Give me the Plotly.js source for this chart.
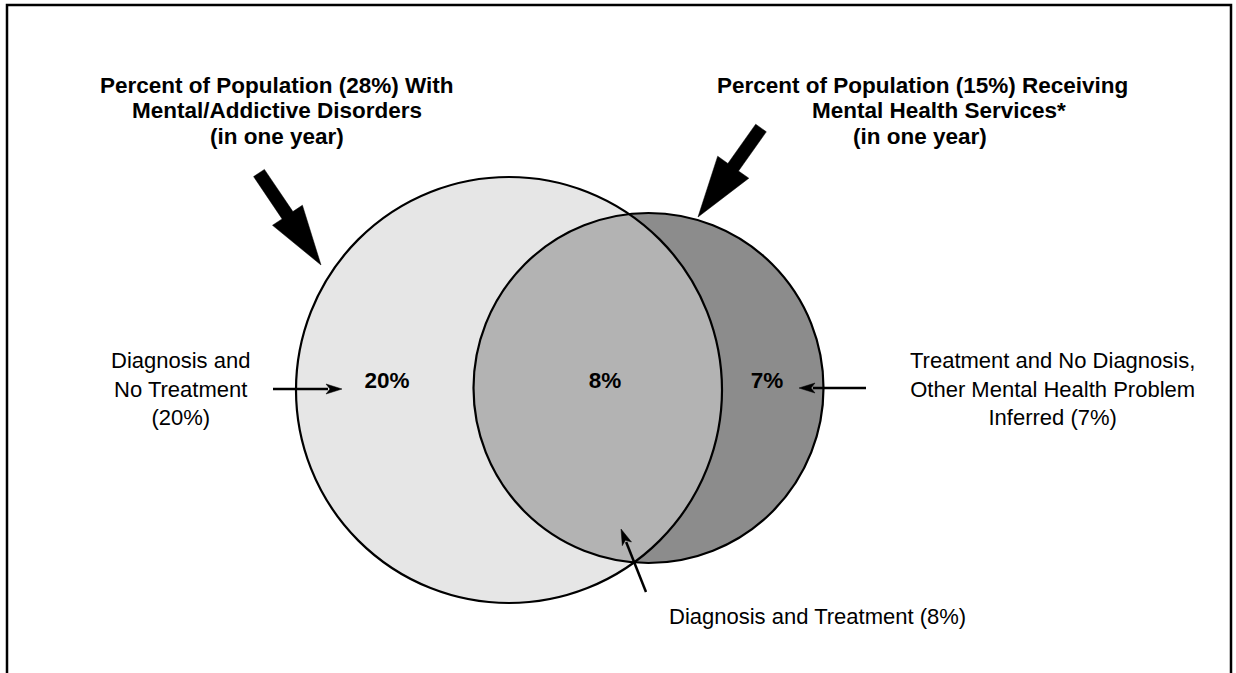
<!DOCTYPE html>
<html>
<head>
<meta charset="utf-8">
<script src="https://cdn.plot.ly/plotly-3.0.1.min.js"></script>
<style>html,body{margin:0;padding:0;background:#fff;}#chart{width:1236px;height:673px;}</style>
</head>
<body>
<div id="chart"></div>
<script>
// ---- data ----
const setPercents = [28, 15];
const setTitleLines = [
  ['Percent of Population (' + setPercents[0] + '%) With', 'Mental/Addictive Disorders', '(in one year)'],
  ['Percent of Population (' + setPercents[1] + '%) Receiving', 'Mental Health Services*', '(in one year)']
];
const regionPercents = [20, 8, 7];
const regionLabels = regionPercents.map(v => v + '%');
const regionDescriptions = [
  'Diagnosis and<br>No Treatment<br>(' + regionPercents[0] + '%)',
  'Diagnosis and Treatment (' + regionPercents[1] + '%)',
  'Treatment and No Diagnosis,<br>Other Mental Health Problem<br>Inferred (' + regionPercents[2] + '%)'
];
const regionColors = ['#e6e6e6', '#b3b3b3', '#8c8c8c'];

// ---- layout geometry (pixel space) ----
const W = 1236, H = 673;
const C1 = {x: 509, y: 390, r: 213};
const C2 = {x: 648.5, y: 388, r: 175};
const titleLineX = [[277, 277, 277], [922, 939, 920]];
const titleLineY = [85, 110, 136];
const regionLabelX = [387, 605, 767];
const regionLabelY = [382, 382, 382];
const descPos = [{x: 180, y: 389}, {x: 817, y: 616}, {x: 1052, y: 389}];

const shapes = [];
function circleShape(c, fill, line) {
  return {type: 'circle', xref: 'x', yref: 'y', x0: c.x - c.r, x1: c.x + c.r, y0: c.y - c.r, y1: c.y + c.r,
    fillcolor: fill, line: line ? {color: '#000', width: 2.2} : {width: 0}, layer: 'below'};
}
shapes.push(circleShape(C1, regionColors[0], false));
shapes.push(circleShape(C2, regionColors[2], false));

// lens (intersection)
(function () {
  const dx = C2.x - C1.x, dy = C2.y - C1.y, d = Math.hypot(dx, dy);
  const a = (d * d + C1.r * C1.r - C2.r * C2.r) / (2 * d);
  const h = Math.sqrt(C1.r * C1.r - a * a);
  const ux = dx / d, uy = dy / d;
  const bx = C1.x + a * ux, by = C1.y + a * uy;
  const pA = {x: bx + h * uy, y: by - h * ux};
  const pB = {x: bx - h * uy, y: by + h * ux};
  const ang = (c, p) => Math.atan2(p.y - c.y, p.x - c.x);
  let s = ang(C2, pA), e = ang(C2, pB);
  if (s < 0) s += 2 * Math.PI;
  if (e < 0) e += 2 * Math.PI;
  const pts = [];
  const N = 120;
  for (let i = 0; i <= N; i++) {
    const t = s + (e - s) * i / N;
    pts.push([C2.x + C2.r * Math.cos(t), C2.y + C2.r * Math.sin(t)]);
  }
  const b1 = ang(C1, pB), b2 = ang(C1, pA);
  for (let i = 0; i <= N; i++) {
    const t = b1 + (b2 - b1) * i / N;
    pts.push([C1.x + C1.r * Math.cos(t), C1.y + C1.r * Math.sin(t)]);
  }
  const path = 'M' + pts.map(p => p[0].toFixed(2) + ',' + p[1].toFixed(2)).join('L') + 'Z';
  shapes.push({type: 'path', xref: 'x', yref: 'y', path: path, fillcolor: regionColors[1], line: {width: 0}, layer: 'below'});
})();

shapes.push(circleShape(C1, 'rgba(0,0,0,0)', true));
shapes.push(circleShape(C2, 'rgba(0,0,0,0)', true));

// arrows
function bigArrow(tx, ty, px, py, headLen, headHalf, shaftHalf) {
  const L = Math.hypot(px - tx, py - ty);
  const ux = (px - tx) / L, uy = (py - ty) / L;
  const nx = -uy, ny = ux;
  const nkx = px - headLen * ux, nky = py - headLen * uy;
  const P = [
    [tx + nx * shaftHalf, ty + ny * shaftHalf],
    [nkx + nx * shaftHalf, nky + ny * shaftHalf],
    [nkx + nx * headHalf, nky + ny * headHalf],
    [px, py],
    [nkx - nx * headHalf, nky - ny * headHalf],
    [nkx - nx * shaftHalf, nky - ny * shaftHalf],
    [tx - nx * shaftHalf, ty - ny * shaftHalf]
  ];
  return {type: 'path', xref: 'x', yref: 'y', path: 'M' + P.map(p => p[0].toFixed(1) + ',' + p[1].toFixed(1)).join('L') + 'Z',
    fillcolor: '#000', line: {color: '#000', width: 0.5}, layer: 'above'};
}
function smallArrow(tx, ty, px, py) {
  const headLen = 16, headHalf = 5;
  const L = Math.hypot(px - tx, py - ty);
  const ux = (px - tx) / L, uy = (py - ty) / L;
  const nx = -uy, ny = ux;
  const nkx = px - headLen * ux, nky = py - headLen * uy;
  return [
    {type: 'line', xref: 'x', yref: 'y', x0: tx, y0: ty, x1: nkx + ux * 2, y1: nky + uy * 2, line: {color: '#000', width: 2.5}, layer: 'above'},
    {type: 'path', xref: 'x', yref: 'y',
      path: 'M' + px + ',' + py + 'L' + (nkx + nx * headHalf).toFixed(1) + ',' + (nky + ny * headHalf).toFixed(1) +
        'L' + (nkx + ux * 4).toFixed(1) + ',' + (nky + uy * 4).toFixed(1) +
        'L' + (nkx - nx * headHalf).toFixed(1) + ',' + (nky - ny * headHalf).toFixed(1) + 'Z',
      fillcolor: '#000', line: {color: '#000', width: 0.5}, layer: 'above'}
  ];
}
shapes.push(bigArrow(259, 173, 321, 265, 60, 18, 6.5));
shapes.push(bigArrow(761, 128, 698, 217, 61, 19, 6.5));
shapes.push(...smallArrow(273, 389, 342, 389));
shapes.push(...smallArrow(866, 388, 799, 388));
shapes.push(...smallArrow(646, 592, 621, 529));

// frame
shapes.push({type: 'path', xref: 'x', yref: 'y', path: 'M7,680L7,5L1231,5L1231,680', line: {color: '#000', width: 2.5}, layer: 'above'});

const FONT = 'Liberation Sans, Arial, Helvetica, sans-serif';
const annotations = [];
for (let s = 0; s < 2; s++) {
  for (let l = 0; l < 3; l++) {
    annotations.push({xref: 'x', yref: 'y', x: titleLineX[s][l], y: titleLineY[l], text: '<b>' + setTitleLines[s][l] + '</b>',
      showarrow: false, xanchor: 'center', yanchor: 'middle', font: {family: FONT, size: 22.5, color: '#000'}});
  }
}
descPos.forEach((p, i) => {
  annotations.push({xref: 'x', yref: 'y', x: p.x, y: p.y, text: regionDescriptions[i], showarrow: false,
    xanchor: 'center', yanchor: 'middle', align: 'center', font: {family: FONT, size: 22, color: '#000'}});
});

const traces = [{
  type: 'scatter', mode: 'text', x: regionLabelX, y: regionLabelY,
  text: regionLabels.map(t => '<b>' + t + '</b>'), textposition: 'middle center',
  textfont: {family: FONT, size: 22.5, color: '#000'}, hoverinfo: 'skip', cliponaxis: false
}];

const layout = {
  width: W, height: H, margin: {l: 0, r: 0, t: 0, b: 0}, paper_bgcolor: '#fff', plot_bgcolor: 'rgba(0,0,0,0)',
  showlegend: false,
  xaxis: {range: [0, W], visible: false, fixedrange: true},
  yaxis: {range: [H, 0], visible: false, fixedrange: true},
  shapes: shapes, annotations: annotations
};
Plotly.newPlot('chart', traces, layout, {displayModeBar: false, staticPlot: true});
</script>
</body>
</html>
